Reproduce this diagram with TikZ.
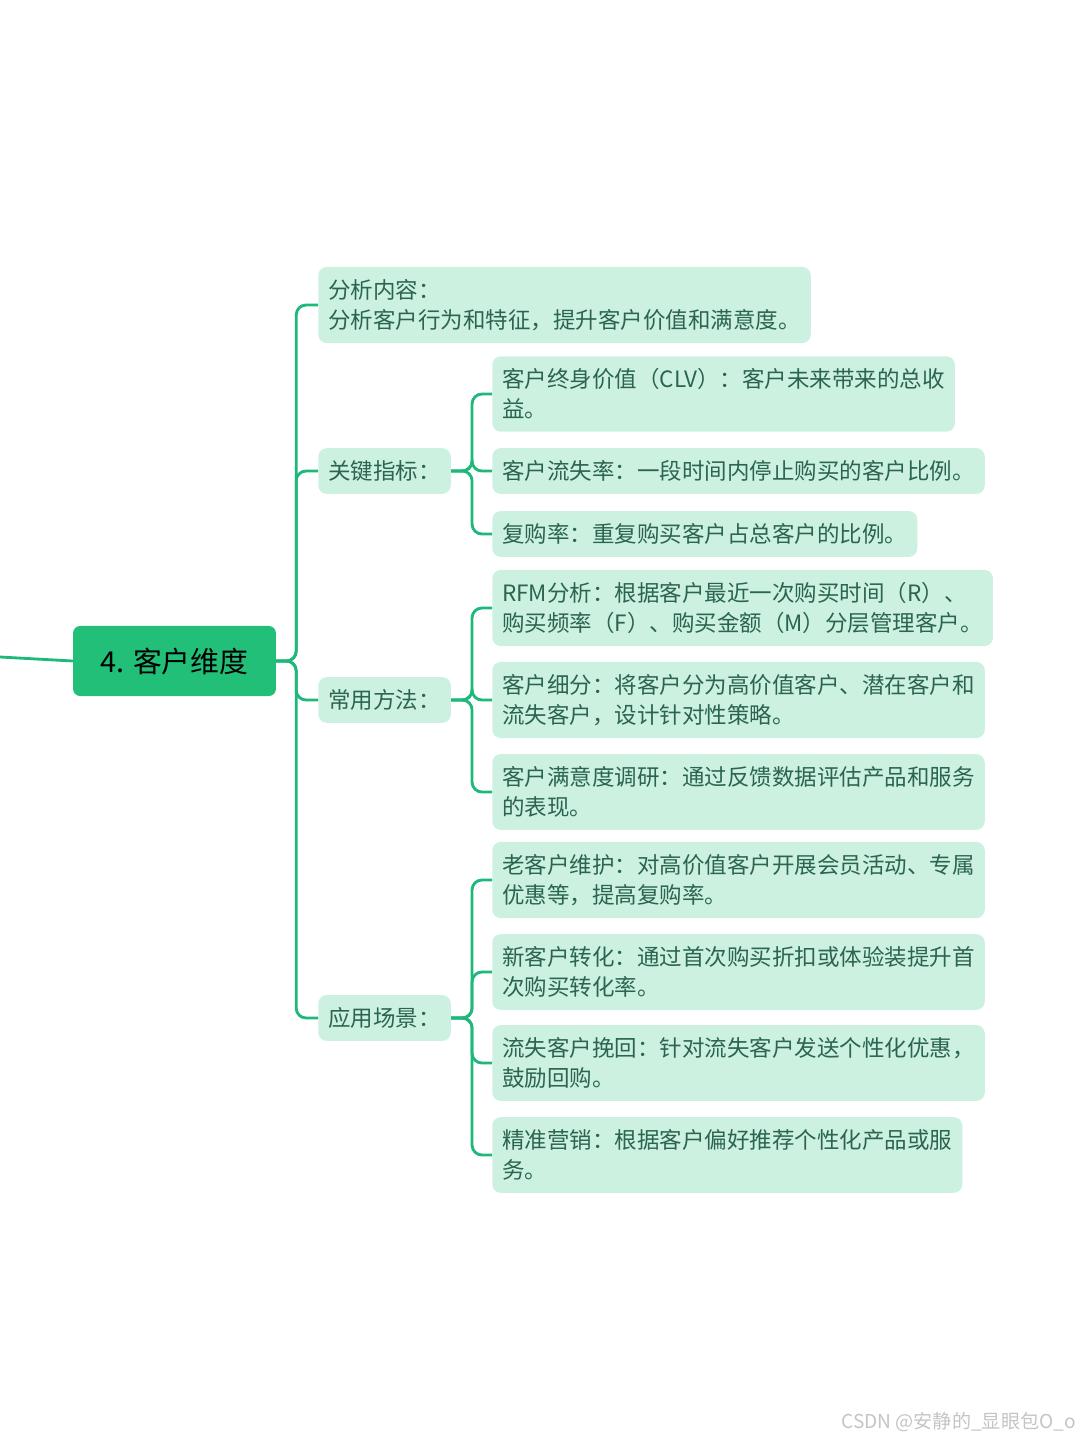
\documentclass[tikz,border=0pt]{standalone}
\usepackage{fontspec}
\setmainfont{Noto Sans CJK SC}
\usetikzlibrary{positioning}
\definecolor{cgreen}{HTML}{21BF78}
\definecolor{cmint}{HTML}{CCF1E1}
\definecolor{cline}{HTML}{1DB87A}
\definecolor{ctext}{HTML}{2B6450}
\definecolor{cgrey}{HTML}{C4C4C4}
\tikzset{
  root/.style={fill=cgreen, rounded corners=5pt, minimum width=5.07cm, minimum height=1.75cm,
    font=\fontsize{20.5}{24}\selectfont, text=black, inner sep=0pt},
  leaf/.style={fill=cmint, rounded corners=6pt, align=left, anchor=west, inner xsep=0.25cm, inner ysep=0.31cm,
    font=\fontsize{16}{21.3}\selectfont, text=ctext},
  link/.style={draw=cline, line width=2pt, rounded corners=7pt},
  wmark/.style={font=\fontsize{13.6}{15}\selectfont, text=cgrey, anchor=east, inner sep=0pt},
}

\begin{document}
\begin{tikzpicture}[x=0.025cm, y=-0.025cm]
  \useasboundingbox (0,0) rectangle (1080,1440);
  \node[root] (root) at (174.5,661) {4. 客户维度};
  \coordinate (in) at (0,657);
  \draw[link] (in) -- (root.west);

  % first level
  \node[leaf] (content) at (318,305) {分析内容：\\分析客户行为和特征，提升客户价值和满意度。};
  \node[leaf] (metric) at (318,471) {关键指标：};
  \node[leaf] (method) at (318,700) {常用方法：};
  \node[leaf] (scene) at (318,1018) {应用场景：};
  \draw[link] (root.east) -- ++(20,0) |- (content.west);
  \draw[link] (root.east) -- ++(20,0) |- (metric.west);
  \draw[link] (root.east) -- ++(20,0) |- (method.west);
  \draw[link] (root.east) -- ++(20,0) |- (scene.west);

  % key metrics
  \node[leaf] (clv) at (492,394) {客户终身价值（CLV）：客户未来带来的总收\\益。};
  \node[leaf] (churn) at (492,471) {客户流失率：一段时间内停止购买的客户比例。};
  \node[leaf] (repeat) at (492,534) {复购率：重复购买客户占总客户的比例。};
  \draw[link] (metric.east) -- ++(21,0) |- (clv.west);
  \draw[link] (metric.east) -- ++(21,0) |- (churn.west);
  \draw[link] (metric.east) -- ++(21,0) |- (repeat.west);

  % common methods
  \node[leaf] (rfm) at (492,608) {RFM分析：根据客户最近一次购买时间（R）、\\购买频率（F）、购买金额（M）分层管理客户。};
  \node[leaf] (segment) at (492,700) {客户细分：将客户分为高价值客户、潜在客户和\\流失客户，设计针对性策略。};
  \node[leaf] (survey) at (492,792) {客户满意度调研：通过反馈数据评估产品和服务\\的表现。};
  \draw[link] (method.east) -- ++(21,0) |- (rfm.west);
  \draw[link] (method.east) -- ++(21,0) |- (segment.west);
  \draw[link] (method.east) -- ++(21,0) |- (survey.west);

  % scenarios
  \node[leaf] (retain) at (492,880) {老客户维护：对高价值客户开展会员活动、专属\\优惠等，提高复购率。};
  \node[leaf] (convert) at (492,972) {新客户转化：通过首次购买折扣或体验装提升首\\次购买转化率。};
  \node[leaf] (winback) at (492,1063) {流失客户挽回：针对流失客户发送个性化优惠，\\鼓励回购。};
  \node[leaf] (target) at (492,1155) {精准营销：根据客户偏好推荐个性化产品或服\\务。};
  \draw[link] (scene.east) -- ++(21,0) |- (retain.west);
  \draw[link] (scene.east) -- ++(21,0) |- (convert.west);
  \draw[link] (scene.east) -- ++(21,0) |- (winback.west);
  \draw[link] (scene.east) -- ++(21,0) |- (target.west);

  \node[wmark] (credit) at (1076,1422) {CSDN @安静的\_显眼包O\_o};
\end{tikzpicture}
\end{document}
